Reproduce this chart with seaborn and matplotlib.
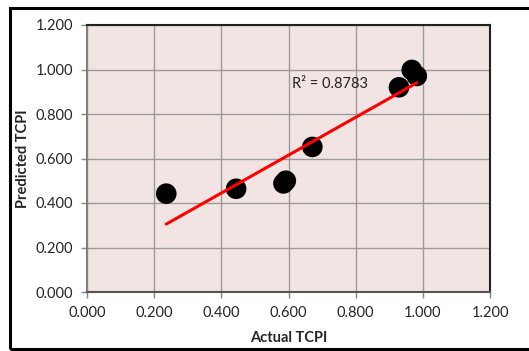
import numpy as np
import pandas as pd
import matplotlib
matplotlib.use("Agg")
import matplotlib.pyplot as plt
from matplotlib.patches import Rectangle
import seaborn as sns

# datos
actual = [0.236, 0.444, 0.585, 0.592, 0.671, 0.929, 0.967, 0.982]
predicted = [0.442, 0.464, 0.488, 0.500, 0.652, 0.920, 0.998, 0.971]
r2_label = "R² = 0.8783"
ticks = [0.0, 0.2, 0.4, 0.6, 0.8, 1.0, 1.2]

df = pd.DataFrame({"Actual TCPI": actual, "Predicted TCPI": predicted})

sns.set_style("white")
plt.rcParams["font.family"] = ["Lato", "DejaVu Sans"]

fig = plt.figure(figsize=(5.29, 3.51), dpi=100)
ax = fig.add_axes([87 / 529, 1 - 292 / 351, (490 - 87) / 529, (292 - 25) / 351])
ax.set_facecolor("#F3E4E4")

sns.regplot(data=df, x="Actual TCPI", y="Predicted TCPI", ax=ax, ci=None,
            scatter_kws={"s": 220, "color": "black", "alpha": 1,
                         "edgecolor": "none", "zorder": 3},
            line_kws={"color": "#FF0000", "lw": 2.2, "zorder": 4})

ax.set_xlim(0, 1.2)
ax.set_ylim(0, 1.2)
ax.set_xticks(ticks)
ax.set_yticks(ticks)
ax.set_xticklabels([f"{t:.3f}" for t in ticks])
ax.set_yticklabels([f"{t:.3f}" for t in ticks])
ax.grid(True, color="#9A9A9A", lw=1)
ax.set_axisbelow(True)
ax.tick_params(axis="both", which="both", direction="out", length=4, width=1,
               color="#888888", labelsize=10.5, pad=6, bottom=True, left=True)
ax.set_xlabel("Actual TCPI", fontsize=10.5, fontweight="bold", labelpad=8)
ax.set_ylabel("Predicted TCPI", fontsize=10.5, fontweight="bold")
ax.yaxis.set_label_coords(-0.141, 0.5)

ax.spines["left"].set_color("#808080")
ax.spines["bottom"].set_color("#555555")
ax.spines["top"].set_color("#222222")
ax.spines["right"].set_color("#222222")
for s in ax.spines.values():
    s.set_linewidth(1.5)

ax.text(0.61, 0.935, r2_label, fontsize=10.5, color="#222222", va="center")

# marco exterior
fig.add_artist(Rectangle((9.5 / 529, 1 - 348.5 / 351), 1.2, (348.5 - 8) / 351,
                         transform=fig.transFigure, fill=False, lw=2.2,
                         edgecolor="black"))

fig.savefig("out.png", dpi=100)
